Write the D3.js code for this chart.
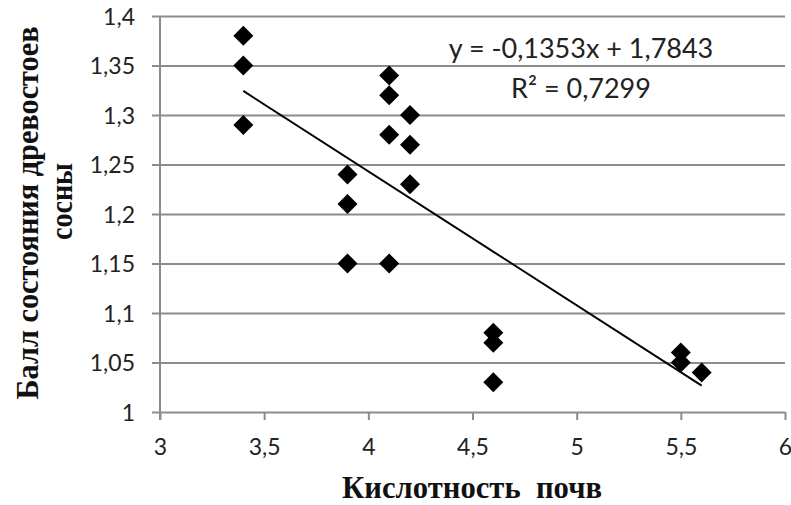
<!DOCTYPE html>
<html><head><meta charset="utf-8">
<script src="https://cdn.jsdelivr.net/npm/d3@7"></script>
<style>body{margin:0;background:#fff}svg{display:block}</style>
</head><body><svg id="c" width="791" height="505"></svg>
<script>
const xTicks = [3, 3.5, 4, 4.5, 5, 5.5, 6];
const yTicks = [1, 1.05, 1.1, 1.15, 1.2, 1.25, 1.3, 1.35, 1.4];
const xValues = [3.4, 3.4, 3.4, 3.9, 3.9, 3.9, 4.1, 4.1, 4.1, 4.1, 4.2, 4.2, 4.2, 4.6, 4.6, 4.6, 5.5, 5.5, 5.6];
const yValues = [1.38, 1.35, 1.29, 1.24, 1.21, 1.15, 1.34, 1.32, 1.28, 1.15, 1.30, 1.27, 1.23, 1.08, 1.07, 1.03, 1.06, 1.05, 1.04];
const slope = -0.1353, intercept = 1.7843;
const trendX = [3.4, 5.6];
const equationText = "y = -0,1353x + 1,7843";
const r2Text = "R² = 0,7299";
const xTitle = "Кислотность  почв";
const yTitleLines = ["Балл состояния древостоев", "сосны"];

const svg = d3.select("#c");
const x = d3.scaleLinear().domain([3, 6]).range([160, 785]);
const y = d3.scaleLinear().domain([1, 1.4]).range([412, 16]);
const fmt = d => String(d).replace(".", ",");
const grid = "#8c8c8c";
const sans = "Lato, 'Open Sans', sans-serif";
const serif = "'Liberation Serif', 'Times New Roman', serif";

// horizontal gridlines with left tick
const yAxis = d3.axisLeft(y).tickValues(yTicks).tickSize(-(785 - 160)).tickSizeOuter(0).tickFormat(fmt).tickPadding(25);
const gy = svg.append("g").attr("transform", "translate(160,0)").call(yAxis);
gy.select(".domain").remove();
gy.selectAll(".tick line").attr("x1", -8).attr("stroke", grid).attr("stroke-width", 2);
gy.selectAll(".tick text").attr("font-family", sans).attr("font-size", 23).attr("fill", "#222").attr("dy", "0.35em");

const xAxis = d3.axisBottom(x).tickValues(xTicks).tickSize(8).tickSizeOuter(0).tickFormat(fmt).tickPadding(0);
const gx = svg.append("g").attr("transform", "translate(0,412)").call(xAxis);
gx.select(".domain").remove();
gx.selectAll(".tick line").attr("stroke", grid).attr("stroke-width", 2);
gx.selectAll(".tick text").attr("font-family", sans).attr("font-size", 23).attr("fill", "#222").attr("y", 43).attr("dy", 0);

// vertical axis line
svg.append("line").attr("x1", x(3)).attr("x2", x(3)).attr("y1", y(1.4)).attr("y2", y(1) + 8)
  .attr("stroke", grid).attr("stroke-width", 2);

// trendline
svg.append("line")
  .attr("x1", x(trendX[0])).attr("y1", y(slope * trendX[0] + intercept))
  .attr("x2", x(trendX[1])).attr("y2", y(slope * trendX[1] + intercept))
  .attr("stroke", "#000").attr("stroke-width", 2);

// points
const sym = d3.symbol().type(d3.symbolSquare).size(200);
svg.append("g").selectAll("path").data(xValues.map((v, i) => [v, yValues[i]])).join("path")
  .attr("d", sym)
  .attr("transform", d => `translate(${x(d[0])},${y(d[1])}) rotate(45)`)
  .attr("fill", "#000");

// equation
svg.append("text").attr("x", 581).attr("y", 58).attr("text-anchor", "middle")
  .attr("font-family", sans).attr("font-size", 27).attr("fill", "#222").text(equationText);
svg.append("text").attr("x", 581).attr("y", 98).attr("text-anchor", "middle")
  .attr("font-family", sans).attr("font-size", 27).attr("fill", "#222").text(r2Text);

// axis titles (tall, condensed bold serif)
svg.append("text").attr("x", 472).attr("y", 498).attr("text-anchor", "middle")
  .attr("font-family", serif).attr("font-weight", "bold").attr("font-size", 32)
  .attr("textLength", 260).attr("lengthAdjust", "spacingAndGlyphs")
  .attr("fill", "#111").style("white-space", "pre").text(xTitle);
const yLens = [373, 77], yCenters = [213, 201.5], yBase = [38, 72];
yTitleLines.forEach((t, i) => {
  svg.append("text").attr("transform", `translate(${yBase[i]},${yCenters[i]}) rotate(-90)`)
    .attr("text-anchor", "middle").attr("font-family", serif).attr("font-weight", "bold").attr("font-size", 32)
    .attr("textLength", yLens[i]).attr("lengthAdjust", "spacingAndGlyphs")
    .attr("fill", "#111").text(t);
});
</script></body></html>
